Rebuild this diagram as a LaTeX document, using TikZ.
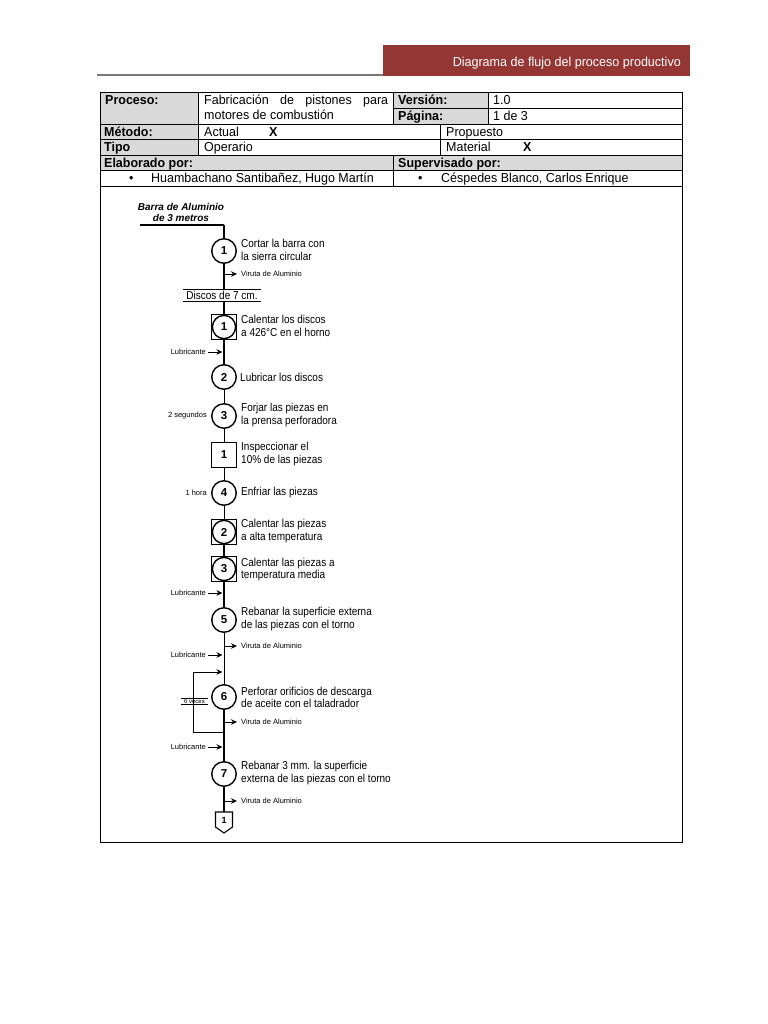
\documentclass[tikz,border=0pt]{standalone}
\usepackage{fontspec}
\setmainfont{Liberation Sans}
\newfontfamily\tabfont[FakeStretch=0.96]{Liberation Sans}
\newfontfamily\flowfont[FakeStretch=0.87]{Liberation Sans}
\newfontfamily\hdrfont[FakeStretch=0.965]{Liberation Sans}
\usetikzlibrary{arrows.meta}
\definecolor{hdrred}{RGB}{148,54,52}
\definecolor{cellgray}{RGB}{217,217,217}
\definecolor{rulegray}{RGB}{120,120,120}
\tikzset{
  tcell/.style={draw=black, line width=0.8bp},
  gcell/.style={tcell, fill=cellgray},
  ttext/.style={anchor=west, inner sep=0, text height=9.3bp, text depth=0bp, font=\tabfont\fontsize{13bp}{14bp}\selectfont},
  tbold/.style={ttext, font=\tabfont\fontsize{13bp}{14bp}\selectfont\bfseries},
  opsym/.style={circle, draw, line width=1.4bp, minimum size=24.5bp, inner sep=0, fill=white,
    font=\fontsize{11.5bp}{13bp}\selectfont\bfseries},
  inspsym/.style={rectangle, draw, line width=1.1bp, minimum size=25bp, inner sep=0, fill=white,
    font=\fontsize{11.5bp}{13bp}\selectfont\bfseries},
  combsym/.style={inspsym, path picture={\draw[line width=1.4bp] (path picture bounding box.center) circle (11.6bp);}},
  desc/.style={anchor=west, inner sep=0, align=left, font=\flowfont\fontsize{11.5bp}{12.5bp}\selectfont},
  tinylbl/.style={inner sep=0, font=\fontsize{7.5bp}{9bp}\selectfont},
  flowthin/.style={line width=0.9bp},
  flowthick/.style={line width=1.7bp},
  inarr/.style={line width=0.9bp, -{Stealth[length=6bp,width=5.5bp]}},
}
\begin{document}
\begin{tikzpicture}[x=1bp,y=-1bp]
\useasboundingbox (0,0) rectangle (768,1024);
% header
\fill[hdrred] (383,45) rectangle (690,76);
\draw[rulegray, line width=2bp] (97,74.5) -- (383,74.5);
\node[anchor=east, inner sep=0, text=white, text height=9.4bp, text depth=0bp, font=\hdrfont\fontsize{13bp}{14bp}\selectfont] (htitle) at (681,61.5) {Diagrama de flujo del proceso productivo};
% table
\draw[gcell] (100,92) rectangle (198,124);
\draw[tcell] (198,92) rectangle (393,124);
\draw[gcell] (393,92) rectangle (488,108);
\draw[tcell] (488,92) rectangle (682,108);
\draw[gcell] (393,108) rectangle (488,124);
\draw[tcell] (488,108) rectangle (682,124);
\draw[gcell] (100,124) rectangle (198,139);
\draw[tcell] (198,124) rectangle (440,139);
\draw[tcell] (440,124) rectangle (682,139);
\draw[gcell] (100,139) rectangle (198,155);
\draw[tcell] (198,139) rectangle (440,155);
\draw[tcell] (440,139) rectangle (682,155);
\draw[gcell] (100,155) rectangle (393,170);
\draw[gcell] (393,155) rectangle (682,170);
\draw[tcell] (100,170) rectangle (393,186);
\draw[tcell] (393,170) rectangle (682,186);
\draw[tcell] (100,186) rectangle (682,842);
\node[tbold] (proc) at (105,100) {Proceso:};
\node[ttext] (fab1) at (204,100) {\makebox[184bp][s]{Fabricación de pistones para}};
\node[ttext] (fab2) at (204,115) {motores de combustión};
\node[tbold] (vers) at (398,100) {Versión:};
\node[ttext] (versv) at (493,100) {1.0};
\node[tbold] (pag) at (398,116) {Página:};
\node[ttext] (pagv) at (493,116) {1 de 3};
\node[tbold] (met) at (104,131.5) {Método:};
\node[ttext] (act) at (204,131.5) {Actual};
\node[tbold] (actx) at (269,131.5) {X};
\node[ttext] (prop) at (446,131.5) {Propuesto};
\node[tbold] (tipo) at (104,147) {Tipo};
\node[ttext] (oper) at (204,147) {Operario};
\node[ttext] (mat) at (446,147) {Material};
\node[tbold] (matx) at (523,147) {X};
\node[tbold] (elab) at (104,162.5) {Elaborado por:};
\node[tbold] (sup) at (398,162.5) {Supervisado por:};
\node[ttext] (b1) at (129,178) {•};
\node[ttext] (n1) at (151,178) {Huambachano Santibañez, Hugo Martín};
\node[ttext] (b2) at (418,178) {•};
\node[ttext] (n2) at (441,178) {Céspedes Blanco, Carlos Enrique};
% flow chart
\node[inner sep=0, align=center, font=\fontsize{10bp}{11bp}\selectfont\bfseries\itshape] (barra) at (181,212.5) {Barra de Aluminio\\de 3 metros};
\coordinate (s0) at (140,225);
\coordinate (s1) at (224,225);
\node[opsym] (c1) at (224,251) {1};
\node[desc] (t1) at (241,250) {Cortar la barra con\\la sierra circular};
\coordinate (v1) at (224,274);
\node[tinylbl, anchor=west] (v1l) at (241,274) {Viruta de Aluminio};
\node[inner sep=0, minimum width=78bp, minimum height=11.5bp, font=\flowfont\fontsize{11.5bp}{12bp}\selectfont] (discos) at (222,295.5) {Discos de 7 cm.};
\node[combsym] (k1) at (224,327) {1};
\node[desc] (tk1) at (241,326) {Calentar los discos\\a 426°C en el horno};
\coordinate (l1) at (224,352);
\node[tinylbl, anchor=east] (l1l) at (206,352) {Lubricante};
\node[opsym] (c2) at (224,377) {2};
\node[desc] (t2) at (240,377) {Lubricar los discos};
\node[opsym] (c3) at (224,416) {3};
\node[desc] (t3) at (241,415) {Forjar las piezas en\\la prensa perforadora};
\node[tinylbl, anchor=east] (seg) at (207,416) {2 segundos};
\node[inspsym] (i1) at (224,455) {1};
\node[desc] (ti1) at (241,454) {Inspeccionar el\\10\% de las piezas};
\node[opsym] (c4) at (224,493) {4};
\node[desc] (t4) at (241,493) {Enfriar las piezas};
\node[tinylbl, anchor=east] (hora) at (207,493) {1 hora};
\node[combsym] (k2) at (224,532) {2};
\node[desc] (tk2) at (241,531) {Calentar las piezas\\a alta temperatura};
\node[combsym] (k3) at (224,569) {3};
\node[desc] (tk3) at (241,569.5) {Calentar las piezas a\\temperatura media};
\coordinate (l2) at (224,593);
\node[tinylbl, anchor=east] (l2l) at (206,593) {Lubricante};
\node[opsym] (c5) at (224,620) {5};
\node[desc] (t5) at (241,619) {Rebanar la superficie externa\\de las piezas con el torno};
\coordinate (v2) at (224,646);
\node[tinylbl, anchor=west] (v2l) at (241,646) {Viruta de Aluminio};
\coordinate (l3) at (224,655);
\node[tinylbl, anchor=east] (l3l) at (206,655) {Lubricante};
\coordinate (lt) at (224,672);
\coordinate (lb) at (224,732);
\coordinate (ll) at (193,732);
\node[opsym] (c6) at (224,697) {6};
\node[desc] (t6) at (241,697.5) {Perforar orificios de descarga\\de aceite con el taladrador};
\node[inner sep=0, minimum width=27bp, minimum height=7bp, font=\fontsize{6bp}{7bp}\selectfont] (veces) at (194.5,701) {6 veces};
\coordinate (v3) at (224,722);
\node[tinylbl, anchor=west] (v3l) at (241,722) {Viruta de Aluminio};
\coordinate (l4) at (224,747);
\node[tinylbl, anchor=east] (l4l) at (206,747) {Lubricante};
\node[opsym] (c7) at (224,774) {7};
\node[desc] (t7) at (241,773) {Rebanar 3 mm. la superficie\\externa de las piezas con el torno};
\coordinate (v4) at (224,801);
\node[tinylbl, anchor=west] (v4l) at (241,801) {Viruta de Aluminio};
\node[inner sep=0, font=\fontsize{9bp}{10bp}\selectfont\bfseries] (p1) at (224,820) {1};
\coordinate (p1top) at (224,812);
% main line
\draw[line width=1.3bp] (s0) -- (s1);
\draw[flowthick] (s1) -- (c1);
\draw[flowthick] (c1) -- (c1 |- discos.north);
\draw[line width=1bp] (discos.north west) -- (discos.north east);
\draw[line width=1bp] (discos.south west) -- (discos.south east);
\draw[flowthick] (c1 |- discos.south) -- (k1);
\draw[flowthick] (k1) -- (c2);
\draw[flowthin] (c2) -- (c3);
\draw[flowthin] (c3) -- (i1);
\draw[flowthin] (i1) -- (c4);
\draw[flowthin] (c4) -- (k2);
\draw[line width=1.1bp] (k2) -- (k3);
\draw[flowthick] (k3) -- (c5);
\draw[flowthin] (c5) -- (c6);
\draw[line width=1.1bp] (c6) -- (c7);
\draw[flowthick] (c7) -- (p1top);
\draw[line width=1.1bp] (p1top) ++(-8.5,0) -- ++(17,0) -- ++(0,15) -- ++(-8.5,6) -- ++(-8.5,-6) -- cycle;
% side arrows
\draw[inarr] (v1) -- ([xshift=-4bp]v1l.west);
\draw[inarr] (v2) -- ([xshift=-4bp]v2l.west);
\draw[inarr] (v3) -- ([xshift=-4bp]v3l.west);
\draw[inarr] (v4) -- ([xshift=-4bp]v4l.west);
\draw[inarr] ([xshift=2bp]l1l.east) -- ([xshift=-1.5bp]l1);
\draw[inarr] ([xshift=2bp]l2l.east) -- ([xshift=-1.5bp]l2);
\draw[inarr] ([xshift=2bp]l3l.east) -- ([xshift=-1.5bp]l3);
\draw[inarr] ([xshift=2bp]l4l.east) -- ([xshift=-1.5bp]l4);
% loop
\draw[inarr] (lb) -- (ll) |- ([xshift=-1.5bp]lt);
\draw[line width=1.3bp] ([yshift=-1bp]veces.north west) -- ([yshift=-1bp]veces.north east);
\draw[line width=0.6bp] (veces.south west) -- (veces.south east);
\end{tikzpicture}
\end{document}
